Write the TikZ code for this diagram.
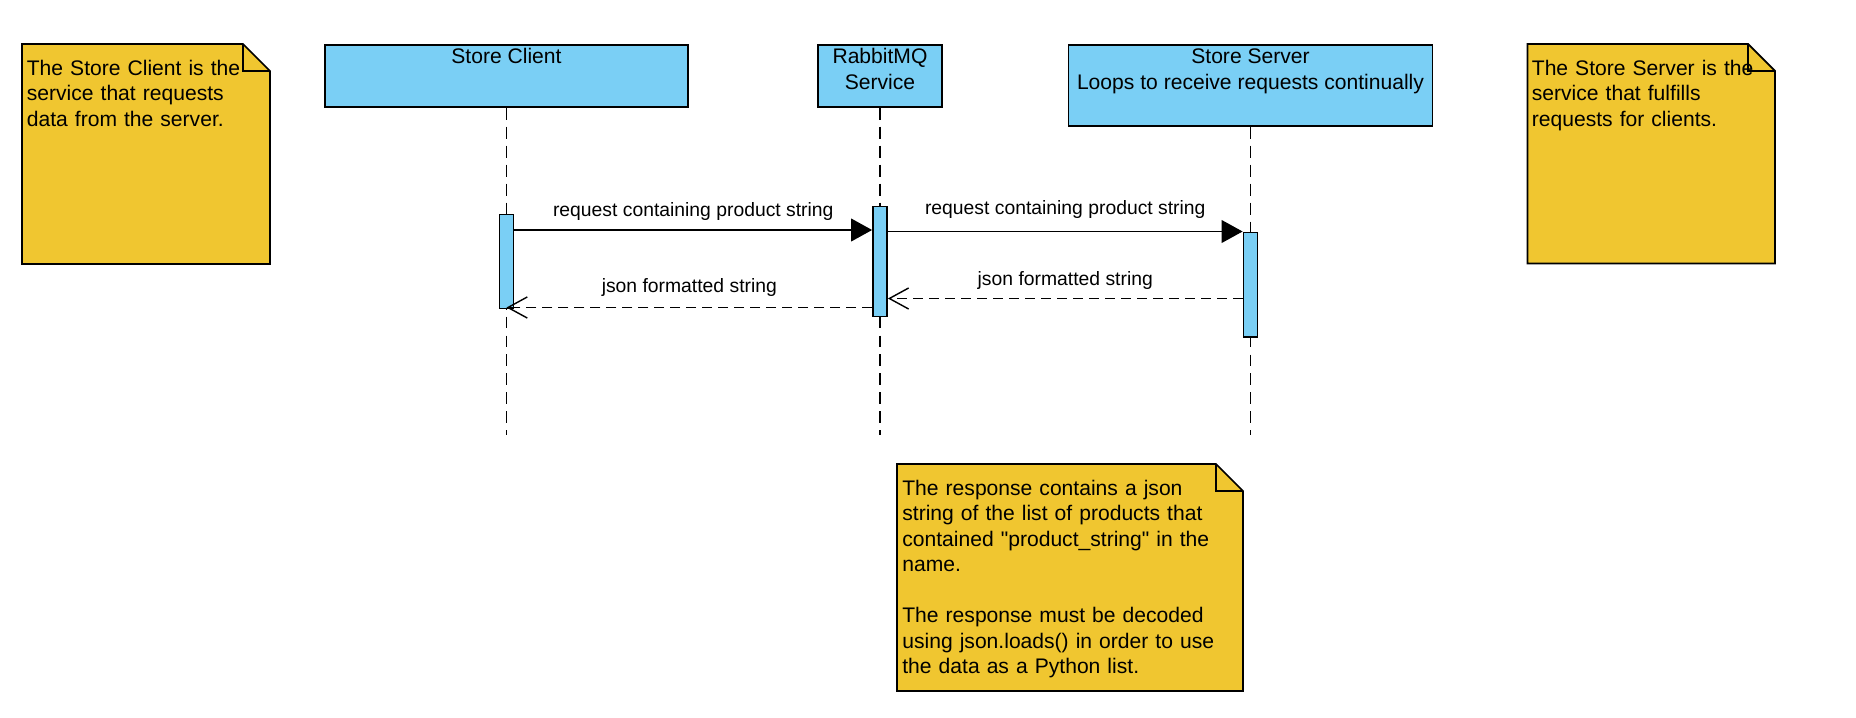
\documentclass[tikz,border=0pt]{standalone}
\usepackage{fontspec}
\setmainfont{Liberation Sans}[Ligatures=TeXOff]
\usepackage{tikz}
\usetikzlibrary{positioning, arrows.meta}
\definecolor{lifeblue}{RGB}{122,207,245}
\definecolor{noteyellow}{RGB}{240,198,48}
\tikzset{
    lifebox/.style={draw, fill=lifeblue, line width=1pt, inner sep=0pt, anchor=north},
    lifetext/.style={font=\fontsize{12}{15}\selectfont, align=center, inner sep=0pt},
    lifeline/.style={draw, line width=0.9pt, dash pattern=on 6.8pt off 4pt},
    actbar/.style={draw, fill=lifeblue, line width=1pt, minimum width=0.28cm, inner sep=0pt, anchor=north},
    notepaper/.style={draw, fill=noteyellow, line width=1pt},
    notetext/.style={font=\fontsize{12}{14.5}\selectfont, align=left, inner sep=0pt, anchor=north west, text width=6.5cm},
    call/.style={draw, line width=0.8pt, -{Triangle[length=12pt,width=13pt]}},
    reply/.style={draw, line width=0.8pt, dash pattern=on 5.7pt off 3.4pt, -{Straight Barb[length=11pt,width=12pt]}},
    msglabel/.style={font=\fontsize{11}{13}\selectfont, inner sep=0pt}
}

\begin{document}
\begin{tikzpicture}
        \path[use as bounding box, fill=white] (0,0) rectangle (37.12,-14.34);

        % notes
        \draw[notepaper] (0.44,-0.88) -- (4.86,-0.88) -- (5.40,-1.42) -- (5.40,-5.28) -- (0.44,-5.28) -- cycle;
        \draw[line width=1pt] (4.86,-0.88) -- (4.86,-1.42) -- (5.40,-1.42);
        \node[notetext] (clientnote) at (0.53,-1.19) {The Store Client is the\\ service that requests\\ data from the server.};

        \draw[notepaper] (30.55,-0.88) -- (34.96,-0.88) -- (35.50,-1.42) -- (35.50,-5.27) -- (30.55,-5.27) -- cycle;
        \draw[line width=1pt] (34.96,-0.88) -- (34.96,-1.42) -- (35.50,-1.42);
        \node[notetext] (servernote) at (30.63,-1.19) {The Store Server is the\\ service that fulfills\\ requests for clients.};

        \draw[notepaper] (17.94,-9.28) -- (24.32,-9.28) -- (24.86,-9.82) -- (24.86,-13.82) -- (17.94,-13.82) -- cycle;
        \draw[line width=1pt] (24.32,-9.28) -- (24.32,-9.82) -- (24.86,-9.82);
        \node[notetext] (responsenote) at (18.04,-9.59) {The response contains a json\\ string of the list of products that\\ contained "product\_string" in the\\ name.\\[14.5pt] The response must be decoded\\ using json.loads() in order to use\\ the data as a Python list.};

        % lifelines
        \node[lifebox, minimum width=7.27cm, minimum height=1.24cm] (client) at (10.13,-0.88) {};
        \node[lifebox, minimum width=2.47cm, minimum height=1.24cm] (rabbit) at (17.60,-0.88) {};
        \node[lifebox, minimum width=7.28cm, minimum height=1.62cm] (server) at (25.01,-0.88) {};
        \node[lifetext, below=0.08cm of client.north] (clientname) {Store Client};
        \node[lifetext, below=0.08cm of rabbit.north] (rabbitname) {RabbitMQ\\ Service};
        \node[lifetext, below=0.08cm of server.north] (servername) {Store Server\\ Loops to receive requests continually};

        \draw[lifeline] (client.south) -- ++(0,-6.54);
        \draw[lifeline] (rabbit.south) -- ++(0,-6.54);
        \draw[lifeline] (server.south) -- ++(0,-6.16);

        \node[actbar, minimum height=1.88cm] (clientbar) at (10.13,-4.27) {};
        \node[actbar, minimum height=2.20cm] (rabbitbar) at (17.60,-4.11) {};
        \node[actbar, minimum height=2.09cm] (serverbar) at (25.01,-4.63) {};

        % messages
        \coordinate (req1) at (0,-4.60);
        \coordinate (req2) at (0,-4.63);
        \coordinate (res2) at (0,-5.97);
        \coordinate (res1) at (0,-6.15);
        \draw[call] (clientbar.east |- req1) -- (rabbitbar.west |- req1) node[msglabel, midway, above=5pt] (req1label) {request containing product string};
        \draw[call] (rabbitbar.east |- req2) -- (serverbar.west |- req2) node[msglabel, midway, above=7pt] (req2label) {request containing product string};
        \draw[reply] (serverbar.west |- res2) -- (rabbitbar.east |- res2) node[msglabel, midway, above=4.7pt] (res2label) {json formatted string};
        \draw[reply] (rabbitbar.west |- res1) -- (clientbar.south |- res1) node[msglabel, midway, above=6pt] (res1label) {json formatted string};
\end{tikzpicture}
\end{document}
